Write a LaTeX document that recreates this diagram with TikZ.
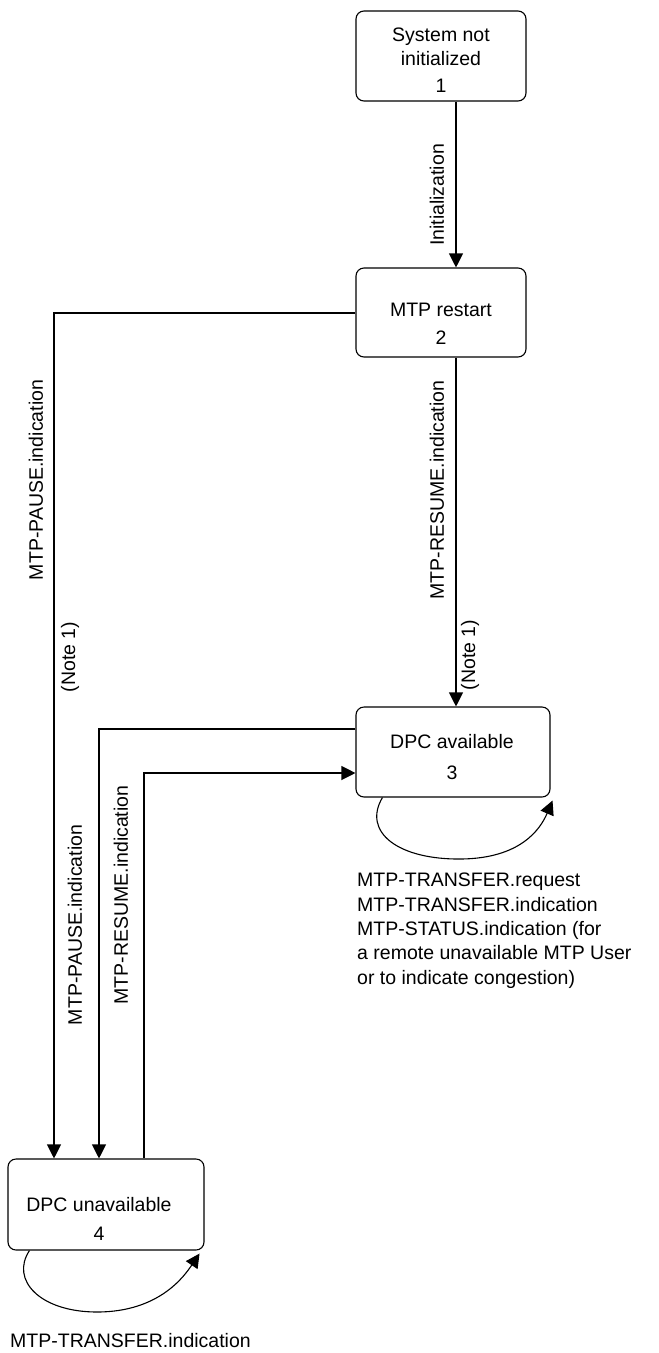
\documentclass[tikz,border=0pt]{standalone}
\usepackage{fontspec}
\setmainfont{Liberation Sans}
\usetikzlibrary{arrows.meta,calc}
\begin{document}
\begin{tikzpicture}[x=1pt,y=-1pt,
  state/.style={draw, rounded corners=8pt, line width=1.1pt, inner sep=0pt},
  stext/.style={align=center, font=\fontsize{19.5}{24.5}\selectfont, inner sep=0pt},
  flow/.style={line width=1.1pt, -{Triangle[length=14pt,width=14pt]}},
  lbl/.style={font=\fontsize{19.5}{24.3}\selectfont, inner sep=0pt},
  vlbl/.style={lbl, rotate=90}]
\useasboundingbox (0,0) rectangle (659,1353);

% states
\node[state, minimum width=170pt, minimum height=90pt] (s1) at (441,56) {};
\node[state, minimum width=170pt, minimum height=89pt] (s2) at (441,312.5) {};
\node[state, minimum width=194pt, minimum height=90pt] (s3) at (453,752) {};
\node[state, minimum width=196pt, minimum height=91pt] (s4) at (106,1204.5) {};

% state names and numbers
\node[stext] (t1) at ($(s1)+(0,4)$) {System not\\initialized\\[2pt]1};
\node[stext] (t2) at ($(s2)+(0,11)$) {MTP restart\\[3.5pt]2};
\node[stext] (t3) at ($(s3)+(-1,5.5)$) {DPC available\\[6.5pt]3};
\node[stext] (t4) at ($(s4)+(-7,14.5)$) {DPC unavailable\\[4pt]4};

% routing columns and rows
\coordinate (cA) at (456,0);
\coordinate (pauseTop) at (54,313);
\coordinate (pauseLow) at (99,729);
\coordinate (resumeLow) at (144,773);

% transitions
\draw[flow] (cA |- s1.south) -- (cA |- s2.north);
\draw[flow] (cA |- s2.south) -- (cA |- s3.north);
\draw[flow] (s2.west |- pauseTop) -- (pauseTop) -- (pauseTop |- s4.north);
\draw[flow] (s3.west |- pauseLow) -- (pauseLow) -- (pauseLow |- s4.north);
\draw[flow] (resumeLow |- s4.north) -- (resumeLow) -- (s3.west |- resumeLow);

% self loops
\draw[flow] ($(s3.south west)+(27,0)$) .. controls (362,832) and (398,860) .. (462,859)
  .. controls (520,858) and (540,830) .. ($(s3.south east)+(2,3)$);
\draw[flow] ($(s4.south west)+(22,0)$) .. controls (10,1280) and (40,1312) .. (97,1312)
  .. controls (160,1312) and (185,1275) .. ($(s4.south east)+(-5,3)$);

% transition labels
\node[vlbl] (lInit) at (437,195) {Initialization};
\node[vlbl] (lPause1) at (36,480) {MTP-PAUSE.indication};
\node[vlbl] (lNote1) at (70,657) {(Note 1)};
\node[vlbl] (lResume1) at (437,490) {MTP-RESUME.indication};
\node[vlbl] (lNote2) at (470,655) {(Note 1)};
\node[vlbl] (lPause2) at (75,925) {MTP-PAUSE.indication};
\node[vlbl] (lResume2) at (121,895) {MTP-RESUME.indication};

% loop labels
\node[lbl, anchor=north west, align=left] (lLoop3) at (357,873)
  {MTP-TRANSFER.request\\MTP-TRANSFER.indication\\MTP-STATUS.indication (for\\a remote unavailable MTP User\\or to indicate congestion)};
\node[lbl, anchor=west] (lLoop4) at (10,1341) {MTP-TRANSFER.indication};
\end{tikzpicture}
\end{document}
